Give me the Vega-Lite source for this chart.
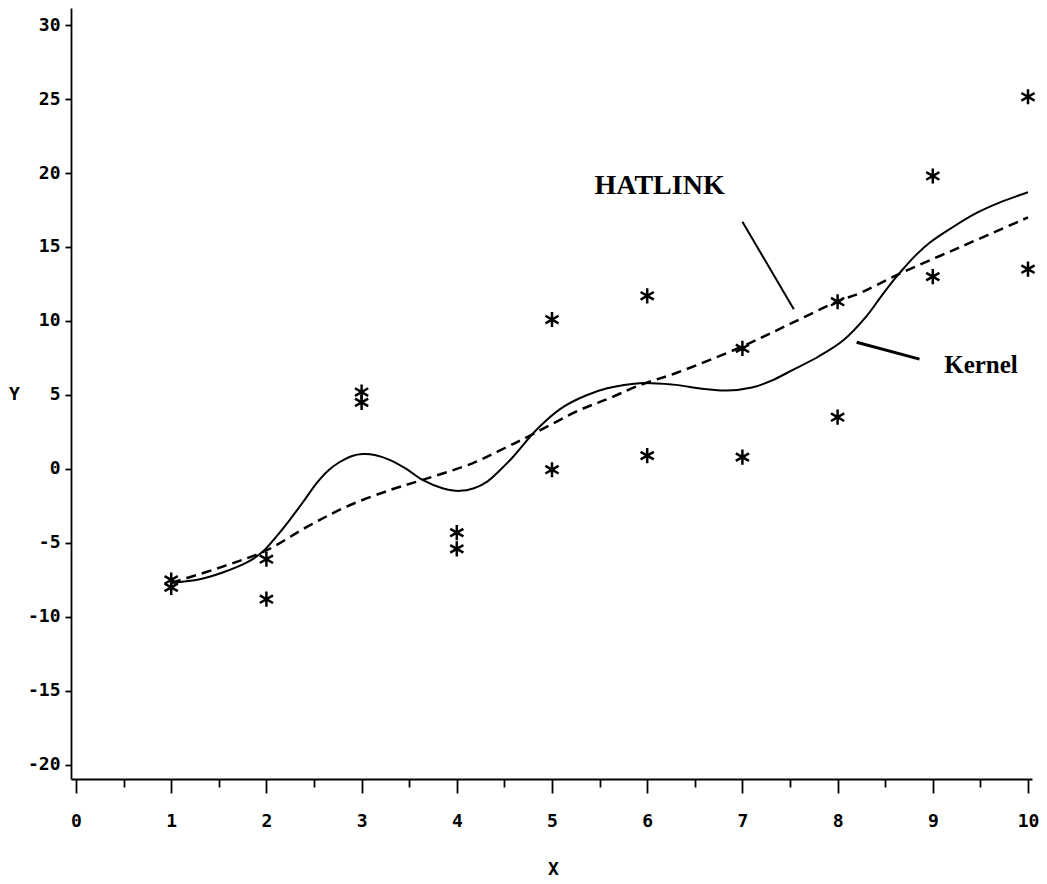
{
  "$schema": "https://vega.github.io/schema/vega-lite/v6.json",
  "width": 961,
  "height": 771,
  "autosize": "none",
  "padding": {"left": 71, "top": 8, "right": 15, "bottom": 105},
  "background": "white",
  "config": {"view": {"stroke": null}, "axis": {"grid": false}},
  "datasets": {
    "pts": [
      {"x": 1, "y": -7.5}, {"x": 1, "y": -8.0},
      {"x": 2, "y": -6.1}, {"x": 2, "y": -8.8},
      {"x": 3, "y": 5.2}, {"x": 3, "y": 4.5},
      {"x": 4, "y": -4.3}, {"x": 4, "y": -5.4},
      {"x": 5, "y": 10.1}, {"x": 5, "y": -0.05},
      {"x": 6, "y": 11.7}, {"x": 6, "y": 0.9},
      {"x": 7, "y": 8.15}, {"x": 7, "y": 0.8},
      {"x": 8, "y": 11.3}, {"x": 8, "y": 3.5},
      {"x": 9, "y": 19.8}, {"x": 9, "y": 13.0},
      {"x": 10, "y": 25.15}, {"x": 10, "y": 13.5}
    ],
    "kernel": [
      {"x": 1.0, "y": -7.7}, {"x": 1.3, "y": -7.45}, {"x": 1.54, "y": -7.0}, {"x": 1.8, "y": -6.3},
      {"x": 1.96, "y": -5.6}, {"x": 2.1, "y": -4.6}, {"x": 2.25, "y": -3.4}, {"x": 2.4, "y": -2.1},
      {"x": 2.53, "y": -0.94}, {"x": 2.65, "y": -0.1}, {"x": 2.77, "y": 0.47}, {"x": 2.9, "y": 0.88},
      {"x": 3.01, "y": 1.01}, {"x": 3.15, "y": 0.93}, {"x": 3.3, "y": 0.6}, {"x": 3.47, "y": 0.0},
      {"x": 3.64, "y": -0.74}, {"x": 3.85, "y": -1.3}, {"x": 4.03, "y": -1.48}, {"x": 4.18, "y": -1.3},
      {"x": 4.32, "y": -0.85}, {"x": 4.45, "y": -0.1}, {"x": 4.59, "y": 0.81}, {"x": 4.8, "y": 2.4},
      {"x": 4.95, "y": 3.35}, {"x": 5.12, "y": 4.2}, {"x": 5.35, "y": 4.95}, {"x": 5.58, "y": 5.45},
      {"x": 5.92, "y": 5.8}, {"x": 6.27, "y": 5.7}, {"x": 6.6, "y": 5.4}, {"x": 6.84, "y": 5.3},
      {"x": 7.1, "y": 5.5}, {"x": 7.3, "y": 5.95}, {"x": 7.53, "y": 6.7}, {"x": 7.8, "y": 7.6},
      {"x": 8.06, "y": 8.7}, {"x": 8.3, "y": 10.3}, {"x": 8.45, "y": 11.6}, {"x": 8.58, "y": 12.7},
      {"x": 8.7, "y": 13.6}, {"x": 8.83, "y": 14.5}, {"x": 8.97, "y": 15.3}, {"x": 9.2, "y": 16.3},
      {"x": 9.46, "y": 17.3}, {"x": 9.7, "y": 18.0}, {"x": 10.0, "y": 18.7}
    ],
    "hatlink": [
      {"x": 1.0, "y": -7.7}, {"x": 1.54, "y": -6.6}, {"x": 2.0, "y": -5.5}, {"x": 2.43, "y": -3.9},
      {"x": 2.84, "y": -2.55}, {"x": 3.3, "y": -1.42}, {"x": 3.64, "y": -0.74}, {"x": 4.17, "y": 0.4},
      {"x": 4.5, "y": 1.4}, {"x": 4.8, "y": 2.36}, {"x": 5.29, "y": 3.98}, {"x": 5.61, "y": 4.8},
      {"x": 5.92, "y": 5.66}, {"x": 6.31, "y": 6.5}, {"x": 6.97, "y": 8.2}, {"x": 7.5, "y": 9.8},
      {"x": 7.99, "y": 11.3}, {"x": 8.24, "y": 11.9}, {"x": 8.62, "y": 13.1}, {"x": 9.29, "y": 15.0},
      {"x": 10.0, "y": 17.0}
    ],
    "hatLeader": [{"x": 7.0, "y": 16.7, "x2": 7.54, "y2": 10.8}],
    "kerLeader": [{"x": 8.2, "y": 8.56, "x2": 8.86, "y2": 7.42}],
    "hatLabel": [{"x": 6.13, "y": 18.6, "label": "HATLINK"}],
    "kerLabel": [{"x": 9.12, "y": 6.47, "label": "Kernel"}]
  },
  "layer": [
    {
      "data": {"name": "kernel"},
      "mark": {"type": "line", "color": "black", "strokeWidth": 2, "interpolate": "catmull-rom"},
      "encoding": {
        "x": {
          "field": "x", "type": "quantitative", "title": "X",
          "scale": {"domain": [-0.0525, 10.042], "nice": false, "zero": false},
          "axis": {
            "values": [0,0.5,1,1.5,2,2.5,3,3.5,4,4.5,5,5.5,6,6.5,7,7.5,8,8.5,9,9.5,10],
            "labelExpr": "datum.value % 1 === 0 ? '' + datum.value : ''",
            "tickSize": {"condition": {"test": "datum.value % 1 === 0", "value": 14}, "value": 8},
            "labelPadding": 19,
            "labelFont": "DejaVu Sans Mono", "labelFontWeight": "bold", "labelFontSize": 18,
            "labelColor": "black", "labelFlush": false,
            "domainColor": "black", "domainWidth": 1.8, "tickColor": "black", "tickWidth": 1.8,
            "titleFont": "DejaVu Sans Mono", "titleFontWeight": "bold", "titleFontSize": 18, "titleColor": "black",
            "titleX": 482, "titleY": 90, "titleAlign": "center", "titleBaseline": "middle"
          }
        },
        "y": {
          "field": "y", "type": "quantitative", "title": "Y",
          "scale": {"domain": [-20.95, 31.15], "nice": false, "zero": false},
          "axis": {
            "values": [-20,-17.5,-15,-12.5,-10,-7.5,-5,-2.5,0,2.5,5,7.5,10,12.5,15,17.5,20,22.5,25,27.5,30],
            "labelExpr": "datum.value % 5 === 0 ? '' + datum.value : ''",
            "tickSize": {"condition": {"test": "datum.value % 5 === 0", "value": 6}, "value": 3},
            "labelPadding": 5,
            "labelFont": "DejaVu Sans Mono", "labelFontWeight": "bold", "labelFontSize": 18,
            "labelColor": "black", "labelFlush": false,
            "domainColor": "black", "domainWidth": 1.8, "tickColor": "black", "tickWidth": 1.8,
            "titleFont": "DejaVu Sans Mono", "titleFontWeight": "bold", "titleFontSize": 18, "titleColor": "black",
            "titleAngle": 0, "titleX": -57, "titleY": 386, "titleAlign": "center", "titleBaseline": "middle"
          }
        }
      }
    },
    {
      "data": {"name": "hatlink"},
      "mark": {"type": "line", "color": "black", "strokeWidth": 2.5, "strokeDash": [10, 6], "interpolate": "catmull-rom"},
      "encoding": {
        "x": {"field": "x", "type": "quantitative"},
        "y": {"field": "y", "type": "quantitative"}
      }
    },
    {
      "data": {"name": "pts"},
      "mark": {"type": "point", "shape": "M0,-1L0,1M-0.87,-0.5L0.87,0.5M-0.87,0.5L0.87,-0.5", "filled": false, "color": "black", "strokeWidth": 2.5, "size": 230, "opacity": 1},
      "encoding": {
        "x": {"field": "x", "type": "quantitative"},
        "y": {"field": "y", "type": "quantitative"}
      }
    },
    {
      "data": {"name": "hatLeader"},
      "mark": {"type": "rule", "color": "black", "strokeWidth": 2},
      "encoding": {
        "x": {"field": "x", "type": "quantitative"},
        "y": {"field": "y", "type": "quantitative"},
        "x2": {"field": "x2"},
        "y2": {"field": "y2"}
      }
    },
    {
      "data": {"name": "kerLeader"},
      "mark": {"type": "rule", "color": "black", "strokeWidth": 3},
      "encoding": {
        "x": {"field": "x", "type": "quantitative"},
        "y": {"field": "y", "type": "quantitative"},
        "x2": {"field": "x2"},
        "y2": {"field": "y2"}
      }
    },
    {
      "data": {"name": "hatLabel"},
      "mark": {"type": "text", "font": "Liberation Serif", "fontWeight": "bold", "fontSize": 28, "align": "center", "baseline": "alphabetic", "color": "black"},
      "encoding": {
        "x": {"field": "x", "type": "quantitative"},
        "y": {"field": "y", "type": "quantitative"},
        "text": {"field": "label"}
      }
    },
    {
      "data": {"name": "kerLabel"},
      "mark": {"type": "text", "font": "Liberation Serif", "fontWeight": "bold", "fontSize": 25, "align": "left", "baseline": "alphabetic", "color": "black"},
      "encoding": {
        "x": {"field": "x", "type": "quantitative"},
        "y": {"field": "y", "type": "quantitative"},
        "text": {"field": "label"}
      }
    }
  ]
}
